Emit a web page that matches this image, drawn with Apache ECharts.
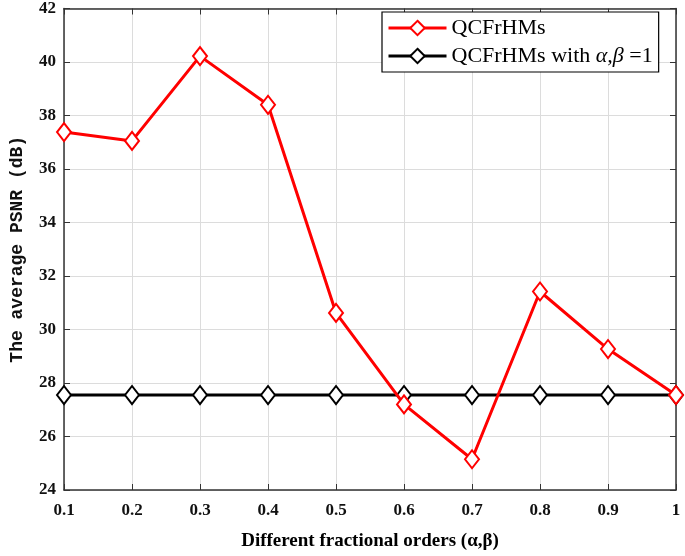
<!DOCTYPE html>
<html>
<head>
<meta charset="utf-8">
<script src="https://cdn.jsdelivr.net/npm/echarts@6/dist/echarts.min.js"></script>
<style>
  html, body { margin: 0; padding: 0; background: #fff; }
  #chart { width: 685px; height: 556px; }
</style>
</head>
<body>
<div id="chart"></div>
<script>
  // 数据
  var orders = ['0.1', '0.2', '0.3', '0.4', '0.5', '0.6', '0.7', '0.8', '0.9', '1'];
  var psnrQCFrHMs = [37.38, 37.05, 40.22, 38.4, 30.62, 27.2, 25.15, 31.42, 29.27, 27.55];
  var psnrIntOrder = [27.55, 27.55, 27.55, 27.55, 27.55, 27.55, 27.55, 27.55, 27.55, 27.55];

  var tickFont = {fontFamily: 'Liberation Serif', fontWeight: 'bold', fontSize: 17, color: '#111'};
  var boxLine = {show: true, lineStyle: {color: '#333', width: 1.5}};

  var chart = echarts.init(document.getElementById('chart'));
  chart.setOption({
    animation: false,
    grid: {left: 61, right: 9, top: 8, bottom: 62},
    legend: {
      orient: 'vertical',
      left: 382,
      top: 12,
      padding: [5, 6, 5, 5],
      itemGap: 6,
      itemWidth: 58,
      itemHeight: 18,
      backgroundColor: '#fff',
      borderColor: '#000',
      borderWidth: 1.2,
      lineStyle: {width: 3},
      formatter: function (name) {
        if (name === 'QCFrHMs') return '{n|QCFrHMs}';
        return '{n|QCFrHMs with }{g|α,β}{n| =1}';
      },
      textStyle: {
        fontFamily: 'Liberation Serif', fontSize: 22, color: '#000',
        rich: {
          n: {fontFamily: 'Liberation Serif', fontSize: 22, color: '#000'},
          g: {fontFamily: 'Liberation Serif', fontStyle: 'italic', fontSize: 22, color: '#000'}
        }
      },
      data: ['QCFrHMs', 'QCFrHMs with α,β =1']
    },
    xAxis: [
      {
        type: 'category',
        data: orders,
        boundaryGap: false,
        name: 'Different fractional orders (α,β)',
        nameLocation: 'middle',
        nameGap: 42,
        nameTextStyle: {fontFamily: 'Liberation Serif', fontWeight: 'bold', fontSize: 19, color: '#000'},
        axisLine: boxLine,
        axisTick: {show: true, inside: true, length: 6, lineStyle: {color: '#333'}},
        axisLabel: Object.assign({margin: 12}, tickFont),
        splitLine: {show: true, lineStyle: {color: '#dcdcdc', width: 1}}
      },
      {
        type: 'category',
        data: orders,
        boundaryGap: false,
        position: 'top',
        axisLine: boxLine,
        axisTick: {show: true, inside: true, length: 6, lineStyle: {color: '#333'}},
        axisLabel: {show: false},
        splitLine: {show: false}
      }
    ],
    yAxis: [
      {
        type: 'value',
        min: 24,
        max: 42,
        interval: 2,
        name: 'The average PSNR (dB)',
        nameLocation: 'middle',
        nameGap: 38,
        nameTextStyle: {fontFamily: 'Liberation Mono', fontWeight: 'bold', fontSize: 18, color: '#111'},
        axisLine: boxLine,
        axisTick: {show: true, inside: true, length: 6, lineStyle: {color: '#333'}},
        axisLabel: Object.assign({margin: 8}, tickFont),
        splitLine: {show: true, lineStyle: {color: '#dcdcdc', width: 1}}
      },
      {
        type: 'value',
        min: 24,
        max: 42,
        interval: 2,
        position: 'right',
        axisLine: boxLine,
        axisTick: {show: true, inside: true, length: 6, lineStyle: {color: '#333'}},
        axisLabel: {show: false},
        splitLine: {show: false}
      }
    ],
    series: [
      {
        name: 'QCFrHMs',
        type: 'line',
        data: psnrQCFrHMs,
        symbol: 'emptyDiamond',
        symbolSize: [14, 18],
        color: '#ff0000',
        lineStyle: {width: 3, color: '#ff0000'},
        itemStyle: {color: '#ff0000', borderWidth: 3},
        z: 3
      },
      {
        name: 'QCFrHMs with α,β =1',
        type: 'line',
        data: psnrIntOrder,
        symbol: 'emptyDiamond',
        symbolSize: [14, 18],
        color: '#000',
        lineStyle: {width: 3, color: '#000'},
        itemStyle: {color: '#000', borderWidth: 3},
        z: 2
      }
    ]
  });
</script>
</body>
</html>
